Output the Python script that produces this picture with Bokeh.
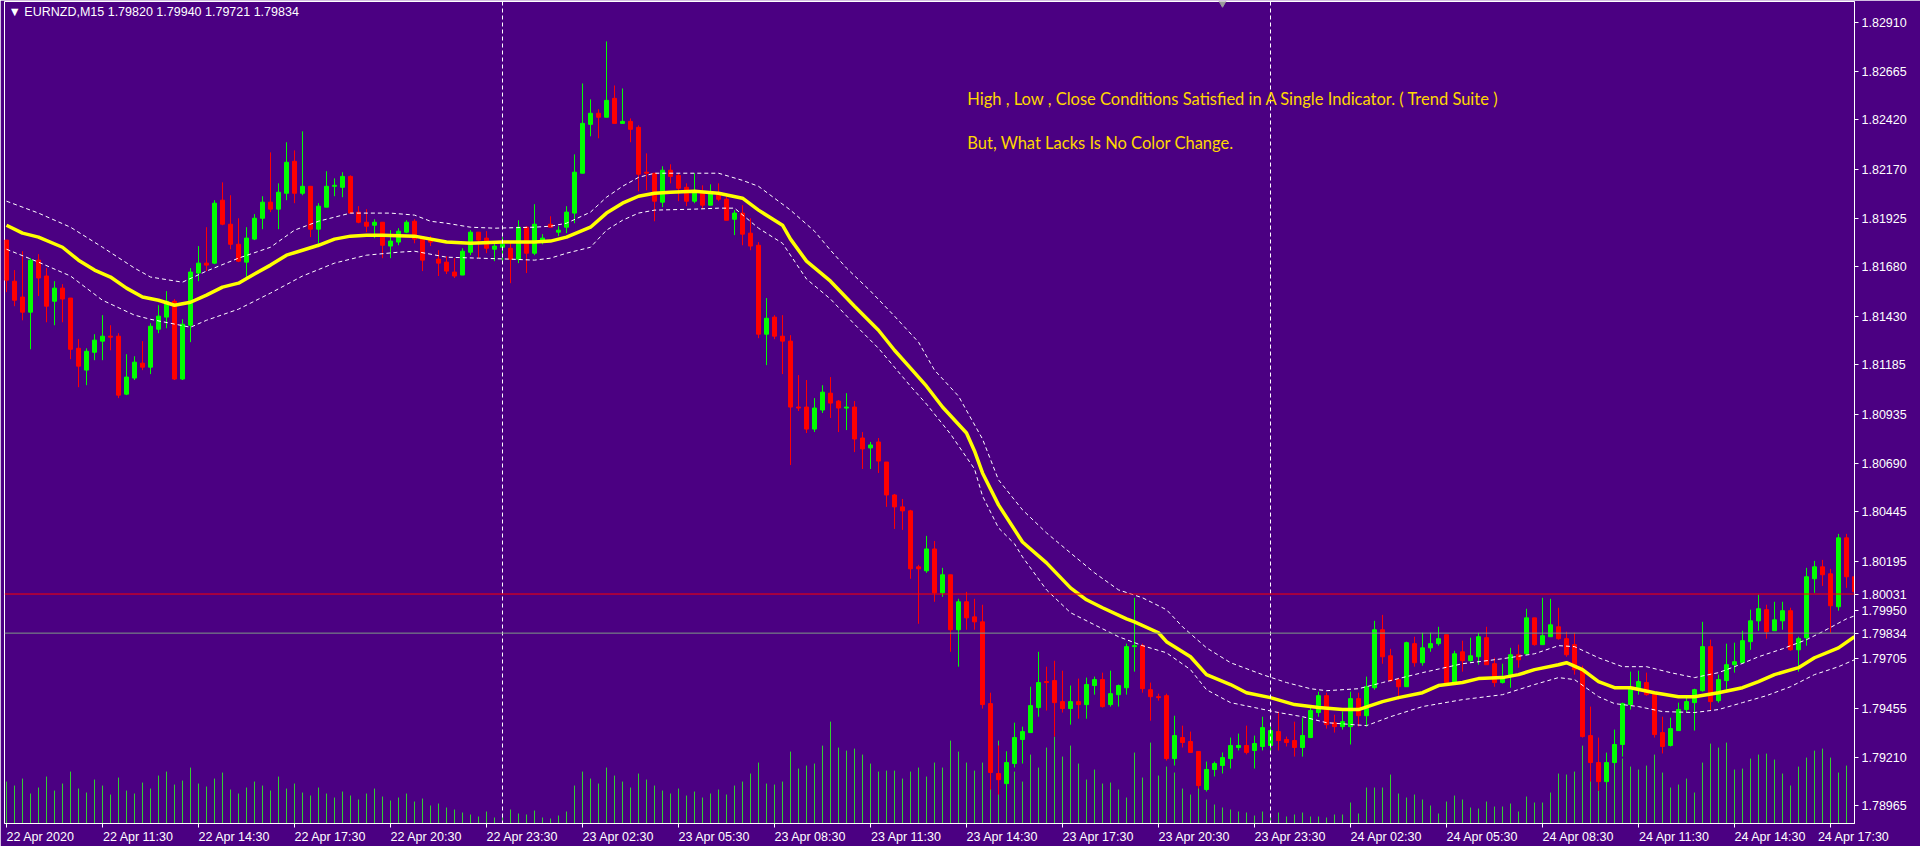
import numpy as np
from bokeh.plotting import figure
from bokeh.models import Range1d, FixedTicker, Span, Label, ColumnDataSource
from bokeh.embed import file_html
from bokeh.resources import INLINE

# ---------------- data ----------------
symbol_title = "\u25bc EURNZD,M15  1.79820 1.79940 1.79721 1.79834"
note_line1 = "High , Low , Close Conditions Satisfied in A Single Indicator. ( Trend Suite )"
note_line2 = "But, What Lacks Is No Color Change."

time_tick_bars = [0, 12, 24, 36, 48, 60, 72, 84, 96, 108, 120, 132, 144, 156, 168, 180, 192, 204, 216, 228]
time_tick_labels = ["22 Apr 2020", "22 Apr 11:30", "22 Apr 14:30", "22 Apr 17:30", "22 Apr 20:30",
                    "22 Apr 23:30", "23 Apr 02:30", "23 Apr 05:30", "23 Apr 08:30", "23 Apr 11:30",
                    "23 Apr 14:30", "23 Apr 17:30", "23 Apr 20:30", "23 Apr 23:30", "24 Apr 02:30",
                    "24 Apr 05:30", "24 Apr 08:30", "24 Apr 11:30", "24 Apr 14:30", "24 Apr 17:30"]

price_tick_labels = ["1.82910", "1.82665", "1.82420", "1.82170", "1.81925", "1.81680", "1.81430",
                     "1.81185", "1.80935", "1.80690", "1.80445", "1.80195", "1.79950", "1.79705",
                     "1.79455", "1.79210", "1.78965"]

bar_open = [1.81814, 1.81607, 1.81527, 1.81451, 1.81713, 1.81633, 1.81506, 1.81572, 1.81522, 1.81269,
            1.81159, 1.81249, 1.81305, 1.81330, 1.81330, 1.81038, 1.81119, 1.81194, 1.81174, 1.81365,
            1.81426, 1.81506, 1.81114, 1.81385, 1.81648, 1.81698, 1.81698, 1.82015, 1.81894, 1.81793,
            1.81703, 1.81819, 1.81924, 1.82005, 1.81970, 1.82050, 1.82211, 1.82050, 1.82085, 1.81869,
            1.81980, 1.82085, 1.82080, 1.82135, 1.81955, 1.81904, 1.81889, 1.81904, 1.81784, 1.81804,
            1.81854, 1.81909, 1.81829, 1.81814, 1.81718, 1.81703, 1.81653, 1.81638, 1.81753, 1.81854,
            1.81824, 1.81768, 1.81778, 1.81773, 1.81718, 1.81879, 1.81748, 1.81814, 1.81894, 1.81854,
            1.81879, 1.81950, 1.82151, 1.82397, 1.82453, 1.82433, 1.82528, 1.82402, 1.82412, 1.82382,
            1.82156, 1.82151, 1.82005, 1.82166, 1.82140, 1.82080, 1.82010, 1.82055, 1.81990, 1.82045,
            1.82020, 1.81919, 1.81950, 1.81849, 1.81788, 1.81340, 1.81426, 1.81330, 1.81305, 1.80973,
            1.80973, 1.80862, 1.80958, 1.81043, 1.81003, 1.80968, 1.80973, 1.80817, 1.80767, 1.80797,
            1.80696, 1.80530, 1.80470, 1.80450, 1.80168, 1.80148, 1.80258, 1.80037, 1.80128, 1.79851,
            1.79992, 1.79916, 1.79891, 1.79479, 1.79127, 1.79076, 1.79177, 1.79298, 1.79333, 1.79459,
            1.79590, 1.79595, 1.79489, 1.79454, 1.79489, 1.79474, 1.79570, 1.79600, 1.79474, 1.79524,
            1.79559, 1.79766, 1.79771, 1.79549, 1.79514, 1.79519, 1.79202, 1.79308, 1.79288, 1.79238,
            1.79046, 1.79147, 1.79167, 1.79202, 1.79258, 1.79268, 1.79243, 1.79263, 1.79268, 1.79338,
            1.79298, 1.79293, 1.79258, 1.79308, 1.79434, 1.79519, 1.79383, 1.79363, 1.79363, 1.79504,
            1.79418, 1.79559, 1.79851, 1.79720, 1.79600, 1.79564, 1.79781, 1.79685, 1.79760, 1.79781,
            1.79826, 1.79580, 1.79740, 1.79695, 1.79715, 1.79811, 1.79680, 1.79585, 1.79615, 1.79725,
            1.79730, 1.79911, 1.79776, 1.79816, 1.79866, 1.79806, 1.79776, 1.79650, 1.79318, 1.79182,
            1.79086, 1.79182, 1.79273, 1.79474, 1.79549, 1.79585, 1.79534, 1.79333, 1.79268, 1.79343,
            1.79449, 1.79484, 1.79544, 1.79766, 1.79494, 1.79595, 1.79675, 1.79685, 1.79791, 1.79896,
            1.79952, 1.79846, 1.79896, 1.79947, 1.79750, 1.79811, 1.80108, 1.80168, 1.80133, 1.79967,
            1.80314, 1.80118]

bar_high = [1.81814, 1.81663, 1.81758, 1.81723, 1.81743, 1.81673, 1.81607, 1.81592, 1.81522, 1.81315,
            1.81269, 1.81340, 1.81436, 1.81385, 1.81345, 1.81239, 1.81229, 1.81305, 1.81395, 1.81486,
            1.81557, 1.81517, 1.81415, 1.81673, 1.81784, 1.81879, 1.82015, 1.82105, 1.82040, 1.81924,
            1.81879, 1.81945, 1.82035, 1.82256, 1.82100, 1.82307, 1.82266, 1.82362, 1.82085, 1.82000,
            1.82161, 1.82125, 1.82156, 1.82140, 1.81985, 1.81970, 1.81919, 1.81904, 1.81864, 1.81874,
            1.81914, 1.81919, 1.81829, 1.81834, 1.81763, 1.81733, 1.81723, 1.81773, 1.81864, 1.81854,
            1.81859, 1.81798, 1.81829, 1.81804, 1.81914, 1.81884, 1.81995, 1.81844, 1.81934, 1.81884,
            1.81985, 1.82246, 1.82603, 1.82523, 1.82473, 1.82815, 1.82593, 1.82578, 1.82427, 1.82392,
            1.82251, 1.82151, 1.82186, 1.82196, 1.82151, 1.82100, 1.82151, 1.82090, 1.82095, 1.82100,
            1.82035, 1.81965, 1.81990, 1.81924, 1.81804, 1.81522, 1.81436, 1.81436, 1.81335, 1.81134,
            1.81109, 1.81018, 1.81083, 1.81124, 1.81008, 1.81043, 1.81003, 1.80847, 1.80797, 1.80817,
            1.80696, 1.80535, 1.80510, 1.80455, 1.80178, 1.80324, 1.80298, 1.80163, 1.80128, 1.80007,
            1.80042, 1.80007, 1.79977, 1.79534, 1.79268, 1.79238, 1.79383, 1.79363, 1.79564, 1.79740,
            1.79665, 1.79695, 1.79645, 1.79570, 1.79605, 1.79610, 1.79615, 1.79635, 1.79645, 1.79575,
            1.79781, 1.80012, 1.79781, 1.79585, 1.79529, 1.79529, 1.79418, 1.79368, 1.79338, 1.79238,
            1.79187, 1.79187, 1.79233, 1.79308, 1.79328, 1.79368, 1.79318, 1.79413, 1.79363, 1.79439,
            1.79313, 1.79388, 1.79408, 1.79464, 1.79539, 1.79534, 1.79423, 1.79439, 1.79539, 1.79534,
            1.79615, 1.79896, 1.79926, 1.79755, 1.79610, 1.79791, 1.79816, 1.79836, 1.79836, 1.79866,
            1.79826, 1.79745, 1.79796, 1.79811, 1.79836, 1.79866, 1.79710, 1.79680, 1.79760, 1.79776,
            1.79957, 1.79911, 1.80012, 1.80007, 1.79962, 1.79841, 1.79836, 1.79670, 1.79464, 1.79308,
            1.79228, 1.79348, 1.79484, 1.79640, 1.79645, 1.79635, 1.79534, 1.79413, 1.79408, 1.79484,
            1.79514, 1.79554, 1.79891, 1.79801, 1.79625, 1.79781, 1.79786, 1.79846, 1.79952, 1.80027,
            1.79977, 1.79992, 1.79992, 1.79962, 1.79816, 1.80163, 1.80198, 1.80203, 1.80158, 1.80334,
            1.80334, 1.80143]

bar_low = [1.81552, 1.81481, 1.81410, 1.81264, 1.81532, 1.81400, 1.81385, 1.81400, 1.81214, 1.81073,
           1.81083, 1.81209, 1.81209, 1.81259, 1.81018, 1.81033, 1.81109, 1.81159, 1.81139, 1.81345,
           1.81370, 1.81109, 1.81109, 1.81300, 1.81607, 1.81658, 1.81693, 1.81889, 1.81768, 1.81703,
           1.81618, 1.81814, 1.81869, 1.81955, 1.81869, 1.82015, 1.82000, 1.82040, 1.81829, 1.81778,
           1.81980, 1.82035, 1.82030, 1.81950, 1.81899, 1.81854, 1.81824, 1.81723, 1.81723, 1.81788,
           1.81849, 1.81798, 1.81658, 1.81784, 1.81633, 1.81643, 1.81623, 1.81638, 1.81738, 1.81723,
           1.81748, 1.81708, 1.81708, 1.81597, 1.81698, 1.81648, 1.81738, 1.81793, 1.81879, 1.81834,
           1.81849, 1.81899, 1.82151, 1.82337, 1.82327, 1.82433, 1.82402, 1.82402, 1.82307, 1.82060,
           1.82065, 1.81909, 1.81980, 1.82100, 1.82010, 1.81985, 1.82000, 1.81970, 1.81990, 1.82010,
           1.81914, 1.81839, 1.81788, 1.81763, 1.81320, 1.81184, 1.81315, 1.81139, 1.80681, 1.80953,
           1.80842, 1.80847, 1.80943, 1.80918, 1.80847, 1.80857, 1.80746, 1.80661, 1.80661, 1.80641,
           1.80470, 1.80359, 1.80354, 1.80108, 1.79881, 1.80138, 1.79992, 1.80017, 1.79740, 1.79665,
           1.79851, 1.79851, 1.79454, 1.79046, 1.79021, 1.78995, 1.79157, 1.79177, 1.79333, 1.79413,
           1.79444, 1.79313, 1.79434, 1.79373, 1.79403, 1.79403, 1.79524, 1.79459, 1.79464, 1.79464,
           1.79524, 1.79640, 1.79534, 1.79393, 1.79494, 1.79192, 1.79167, 1.79258, 1.79233, 1.79051,
           1.79036, 1.79112, 1.79127, 1.79152, 1.79243, 1.79223, 1.79152, 1.79243, 1.79233, 1.79243,
           1.79263, 1.79212, 1.79212, 1.79308, 1.79413, 1.79353, 1.79333, 1.79348, 1.79273, 1.79363,
           1.79363, 1.79549, 1.79680, 1.79590, 1.79499, 1.79564, 1.79665, 1.79670, 1.79740, 1.79771,
           1.79575, 1.79575, 1.79640, 1.79690, 1.79675, 1.79675, 1.79564, 1.79580, 1.79559, 1.79660,
           1.79725, 1.79771, 1.79776, 1.79816, 1.79801, 1.79715, 1.79625, 1.79308, 1.79086, 1.79041,
           1.79076, 1.79172, 1.79212, 1.79449, 1.79524, 1.79519, 1.79308, 1.79228, 1.79263, 1.79343,
           1.79434, 1.79343, 1.79539, 1.79444, 1.79484, 1.79549, 1.79635, 1.79685, 1.79750, 1.79846,
           1.79806, 1.79846, 1.79851, 1.79745, 1.79640, 1.79771, 1.80037, 1.80072, 1.79836, 1.79947,
           1.80062, 1.79952]

bar_close = [1.81612, 1.81511, 1.81451, 1.81713, 1.81623, 1.81481, 1.81572, 1.81517, 1.81264, 1.81179,
             1.81254, 1.81310, 1.81330, 1.81325, 1.81033, 1.81124, 1.81199, 1.81174, 1.81380, 1.81431,
             1.81506, 1.81114, 1.81390, 1.81653, 1.81698, 1.81688, 1.82000, 1.81894, 1.81793, 1.81708,
             1.81824, 1.81924, 1.82005, 1.81970, 1.82055, 1.82206, 1.82050, 1.82085, 1.81869, 1.81985,
             1.82085, 1.82090, 1.82135, 1.81950, 1.81904, 1.81884, 1.81904, 1.81788, 1.81809, 1.81859,
             1.81904, 1.81819, 1.81713, 1.81804, 1.81698, 1.81658, 1.81633, 1.81758, 1.81854, 1.81814,
             1.81773, 1.81784, 1.81793, 1.81718, 1.81879, 1.81748, 1.81894, 1.81824, 1.81879, 1.81864,
             1.81955, 1.82156, 1.82402, 1.82453, 1.82433, 1.82518, 1.82402, 1.82412, 1.82372, 1.82146,
             1.82151, 1.82010, 1.82166, 1.82135, 1.82075, 1.82010, 1.82055, 1.81990, 1.82055, 1.82020,
             1.81914, 1.81950, 1.81844, 1.81784, 1.81340, 1.81420, 1.81330, 1.81305, 1.80973, 1.80968,
             1.80862, 1.80968, 1.81048, 1.80993, 1.80968, 1.80973, 1.80812, 1.80762, 1.80782, 1.80701,
             1.80530, 1.80470, 1.80450, 1.80158, 1.80158, 1.80258, 1.80037, 1.80128, 1.79851, 1.79992,
             1.79911, 1.79891, 1.79474, 1.79132, 1.79096, 1.79182, 1.79308, 1.79338, 1.79469, 1.79585,
             1.79585, 1.79484, 1.79454, 1.79489, 1.79474, 1.79575, 1.79600, 1.79464, 1.79529, 1.79570,
             1.79766, 1.79771, 1.79554, 1.79514, 1.79509, 1.79202, 1.79318, 1.79283, 1.79233, 1.79066,
             1.79147, 1.79177, 1.79207, 1.79268, 1.79268, 1.79233, 1.79278, 1.79358, 1.79343, 1.79293,
             1.79283, 1.79258, 1.79318, 1.79444, 1.79519, 1.79373, 1.79363, 1.79388, 1.79504, 1.79418,
             1.79564, 1.79851, 1.79715, 1.79595, 1.79564, 1.79786, 1.79685, 1.79760, 1.79781, 1.79806,
             1.79575, 1.79730, 1.79695, 1.79720, 1.79816, 1.79675, 1.79585, 1.79615, 1.79725, 1.79700,
             1.79911, 1.79776, 1.79821, 1.79876, 1.79806, 1.79725, 1.79650, 1.79313, 1.79182, 1.79086,
             1.79182, 1.79273, 1.79479, 1.79559, 1.79590, 1.79524, 1.79323, 1.79263, 1.79353, 1.79449,
             1.79489, 1.79549, 1.79766, 1.79489, 1.79600, 1.79675, 1.79690, 1.79796, 1.79896, 1.79957,
             1.79841, 1.79901, 1.79947, 1.79750, 1.79806, 1.80118, 1.80168, 1.80128, 1.79972, 1.80314,
             1.80118, 1.80042]

tick_volume = [420, 380, 450, 300, 360, 470, 330, 400, 520, 350, 310, 440, 380, 290, 460, 330, 300, 410,
               350, 480, 520, 390, 430, 560, 400, 370, 450, 510, 340, 300, 360, 420, 380, 330, 470, 350,
               400, 310, 280, 360, 300, 260, 320, 280, 240, 300, 350, 270, 230, 260, 300, 220, 250, 180,
               200, 160, 140,
               110, 90, 70, 120, 60, 80, 140, 100, 90, 130, 60, 50, 80, 120,
               380, 520, 450, 400, 560, 480, 420, 360, 500, 440, 380, 330, 300, 350, 280, 320, 260, 300,
               340, 290, 380, 420, 500,
               610, 400, 390, 420, 720, 550, 580, 600, 780, 1020, 760, 730, 750, 690, 600, 520, 530, 530,
               450, 520, 560, 470, 610, 560, 830, 720, 610, 530, 610, 640, 830, 720, 520, 420, 690, 560,
               760, 870, 670, 780, 600, 440, 540, 400, 410, 340, 260, 710, 460, 810, 480, 570, 510, 350,
               290, 360,
               240, 190, 160, 140, 120, 110, 80, 120, 60, 110, 70, 90,
               110, 70, 70, 60, 90, 90, 210, 100, 360, 360, 360, 490, 300, 260, 290, 240, 180, 100, 220,
               280, 240, 160, 150, 220, 170, 170, 200, 120, 270, 210, 210, 310, 500, 490, 520, 780, 880,
               330, 710, 650, 650, 570, 540, 580, 690, 510, 360, 390, 450, 310, 610, 800, 760, 810, 540,
               550, 650, 690, 700, 640, 500, 380, 570, 660, 730, 750, 660, 510, 580, 350]

ma_bars = [0, 2, 4, 7, 9, 11, 13, 15, 17, 19, 21, 23, 25, 27, 29, 31, 33, 35, 37, 39, 41, 43, 45, 47, 51,
           55, 58, 62, 66, 68, 70, 73, 75, 77, 79, 81, 83, 86, 89, 92, 94, 97, 98, 100, 103, 106, 109,
           111, 113, 115, 117, 120, 121, 122, 124, 127, 130, 133, 135, 137, 140, 141, 144, 145, 148, 150,
           153, 155, 158, 161, 164, 167, 169, 172, 174, 177, 179, 182, 184, 187, 189, 191, 194, 195, 197,
           199, 201, 203, 206, 209, 211, 214, 217, 219, 221, 224, 226, 229, 231]
ma_values = [1.81889, 1.81849, 1.81829, 1.81778, 1.81713, 1.81663, 1.81628, 1.81572, 1.81527, 1.81511,
             1.81486, 1.81501, 1.81537, 1.81577, 1.81597, 1.81643, 1.81688, 1.81738, 1.81763, 1.81788,
             1.81819, 1.81834, 1.81839, 1.81839, 1.81834, 1.81804, 1.81798, 1.81804, 1.81804, 1.81809,
             1.81829, 1.81879, 1.81950, 1.82000, 1.82035, 1.82050, 1.82055, 1.82060, 1.82050, 1.82025,
             1.81965, 1.81889, 1.81819, 1.81708, 1.81607, 1.81481, 1.81360, 1.81259, 1.81169, 1.81078,
             1.80973, 1.80842, 1.80752, 1.80641, 1.80480, 1.80293, 1.80188, 1.80062, 1.80002, 1.79962,
             1.79906, 1.79891, 1.79836, 1.79791, 1.79715, 1.79625, 1.79575, 1.79534, 1.79509, 1.79474,
             1.79459, 1.79449, 1.79449, 1.79489, 1.79509, 1.79534, 1.79570, 1.79585, 1.79605, 1.79610,
             1.79625, 1.79650, 1.79675, 1.79685, 1.79650, 1.79590, 1.79559, 1.79559, 1.79534, 1.79514,
             1.79514, 1.79534, 1.79559, 1.79590, 1.79625, 1.79660, 1.79710, 1.79760, 1.79816]

upper_bars = [0, 4, 8, 12, 16, 18, 22, 25, 29, 33, 36, 39, 43, 48, 51, 53, 55, 58, 61, 66, 68, 70, 73,
              75, 77, 79, 81, 86, 89, 92, 94, 98, 101, 103, 105, 108, 111, 114, 116, 119, 122, 124, 127,
              130, 133, 136, 139, 142, 145, 147, 150, 153, 157, 160, 163, 165, 169, 172, 177, 182, 187,
              191, 194, 196, 199, 202, 205, 208, 211, 214, 216, 219, 222, 225, 227, 230, 231]
upper_values = [1.82010, 1.81950, 1.81879, 1.81778, 1.81673, 1.81628, 1.81602, 1.81658, 1.81723, 1.81778,
                1.81864, 1.81909, 1.81950, 1.81950, 1.81940, 1.81909, 1.81899, 1.81879, 1.81874, 1.81879,
                1.81884, 1.81899, 1.81955, 1.82030, 1.82085, 1.82130, 1.82151, 1.82151, 1.82151, 1.82115,
                1.82085, 1.81965, 1.81859, 1.81763, 1.81673, 1.81557, 1.81431, 1.81300, 1.81159, 1.81028,
                1.80812, 1.80606, 1.80455, 1.80339, 1.80238, 1.80138, 1.80052, 1.80012, 1.79952, 1.79866,
                1.79760, 1.79685, 1.79625, 1.79585, 1.79554, 1.79544, 1.79554, 1.79585, 1.79635, 1.79680,
                1.79705, 1.79730, 1.79771, 1.79766, 1.79710, 1.79665, 1.79665, 1.79635, 1.79610, 1.79635,
                1.79665, 1.79715, 1.79755, 1.79801, 1.79841, 1.79906, 1.79921]

lower_bars = [0, 4, 8, 12, 16, 18, 23, 25, 29, 33, 37, 41, 45, 49, 51, 55, 59, 63, 66, 68, 70, 73, 75,
              77, 79, 81, 86, 89, 91, 94, 97, 100, 103, 106, 109, 113, 115, 118, 121, 122, 124, 126, 127,
              130, 133, 136, 139, 142, 145, 148, 150, 153, 156, 159, 162, 165, 170, 173, 177, 182, 187,
              191, 194, 196, 199, 201, 204, 207, 211, 214, 217, 220, 223, 226, 229, 231]
lower_values = [1.81768, 1.81703, 1.81633, 1.81511, 1.81436, 1.81415, 1.81375, 1.81410, 1.81466, 1.81547,
                1.81633, 1.81698, 1.81738, 1.81753, 1.81758, 1.81728, 1.81723, 1.81718, 1.81713, 1.81723,
                1.81748, 1.81778, 1.81864, 1.81914, 1.81950, 1.81965, 1.81970, 1.81975, 1.81975, 1.81874,
                1.81798, 1.81618, 1.81517, 1.81390, 1.81269, 1.81078, 1.80988, 1.80837, 1.80661, 1.80525,
                1.80364, 1.80284, 1.80218, 1.80052, 1.79937, 1.79876, 1.79816, 1.79771, 1.79735, 1.79650,
                1.79549, 1.79484, 1.79459, 1.79434, 1.79413, 1.79383, 1.79368, 1.79413, 1.79464, 1.79499,
                1.79524, 1.79575, 1.79610, 1.79600, 1.79514, 1.79479, 1.79464, 1.79439, 1.79434, 1.79449,
                1.79484, 1.79519, 1.79564, 1.79625, 1.79665, 1.79700]

day_separator_bars = [62, 158]
level_line_price = 1.80031
level_line_label = "1.80031"
bid_price = 1.79834
bid_label = "1.79834"
chart_shift_bar = 152

# ---------------- styling ----------------
BG = "#4B0082"
BULL = "#00FF00"
BEAR = "#FF0000"
VOL = "#32CD32"
AXIS_FONT = "Liberation Sans"
BAR_PX = 8.0         # pixels per bar on screen
LABEL_FONT_PX = 12.5

o = np.array(bar_open)
h = np.array(bar_high)
l = np.array(bar_low)
c = np.array(bar_close)
x = np.arange(len(o))
colors = np.where(c >= o, BULL, BEAR)

src = ColumnDataSource(dict(x=x, o=o, h=h, l=l, c=c,
                            top=np.maximum(o, c), bottom=np.minimum(o, c),
                            col=colors, vol=np.array(tick_volume)))

x_end = 231.0
p = figure(width=1920, height=846, output_backend="svg", toolbar_location=None,
           x_range=Range1d(-0.25, x_end), y_range=Range1d(1.78875, 1.83016),
           y_axis_location="right",
           min_border_left=4, min_border_top=1, min_border_right=66, min_border_bottom=22,
           background_fill_color=BG, border_fill_color=BG,
           outline_line_color="white", outline_line_width=1)
p.xgrid.visible = False
p.ygrid.visible = False
p.extra_y_ranges = {"vol": Range1d(0, 8230)}

# volumes
p.segment(x0="x", y0=0, x1="x", y1="vol", source=src, y_range_name="vol",
          line_color=VOL, line_width=1)

# day separators
for b in day_separator_bars:
    p.add_layout(Span(location=b, dimension="height", line_color="white",
                      line_dash="4 3", line_width=1))

# horizontal level and bid lines
p.add_layout(Span(location=level_line_price, dimension="width", line_color="#FF0000", line_width=1))
p.add_layout(Span(location=bid_price, dimension="width", line_color="#7F9A86", line_width=1))

# candles
p.segment(x0="x", y0="h", x1="x", y1="l", source=src, line_color="col", line_width=1)
p.vbar(x="x", width=0.5, top="top", bottom="bottom", source=src,
       fill_color="col", line_color="col", line_width=1)

# indicator: middle line + bands
p.line(upper_bars, upper_values, line_color="white", line_width=1, line_dash="4 3")
p.line(lower_bars, lower_values, line_color="white", line_width=1, line_dash="4 3")
p.line(ma_bars, ma_values, line_color="#FFFF00", line_width=3.5)

# chart-shift marker
p.scatter([chart_shift_bar], [p.y_range.end], marker="inverted_triangle", size=10,
          fill_color="#9a9a9a", line_color="#9a9a9a")

# price axis (right), including the level-line and bid prices
ya = p.yaxis[0]
tick_vals = [float(s) for s in price_tick_labels] + [level_line_price, bid_price]
tick_text = price_tick_labels + [level_line_label, bid_label]
ya.ticker = FixedTicker(ticks=tick_vals)
ya.major_label_overrides = {v: s for v, s in zip(tick_vals, tick_text)}
ya.axis_line_color = "white"
ya.major_tick_line_color = "white"
ya.major_tick_out = 4
ya.major_tick_in = 0
ya.minor_tick_line_color = None
ya.major_label_text_color = "white"
ya.major_label_text_font = AXIS_FONT
ya.major_label_text_font_size = "12.5px"
ya.major_label_standoff = 3

# time axis (bottom): small tick marks at the bars, labels starting at their tick
def half_width_bars(s):
    em = sum(0.278 if ch in " .,:" else 0.333 if ch == "r" else 0.667 if ch == "A" else 0.556 for ch in s)
    return em * LABEL_FONT_PX / 2 / BAR_PX

label_pos = [min(b + half_width_bars(s), x_end - 0.1) for b, s in zip(time_tick_bars, time_tick_labels)]
xa = p.xaxis[0]
xa.ticker = FixedTicker(ticks=label_pos, minor_ticks=time_tick_bars)
xa.major_label_overrides = {v: s for v, s in zip(label_pos, time_tick_labels)}
xa.axis_line_color = "white"
xa.major_tick_line_color = None
xa.major_tick_out = 4
xa.major_tick_in = 0
xa.minor_tick_line_color = "white"
xa.minor_tick_out = 4
xa.minor_tick_in = 0
xa.major_label_text_color = "white"
xa.major_label_text_font = AXIS_FONT
xa.major_label_text_font_size = "12.5px"
xa.major_label_standoff = 2

# title in the corner
p.add_layout(Label(x=p.x_range.start, y=p.y_range.end, x_offset=4, y_offset=-3, text=symbol_title,
                   text_align="left", text_baseline="top", text_color="white",
                   text_font=AXIS_FONT, text_font_size="12.5px"))

# annotation texts
p.add_layout(Label(x=120.1, y=1.82523, text=note_line1, text_align="left", text_baseline="middle",
                   text_color="#FFD700", text_font="Lato", text_font_size="16.5px"))
p.add_layout(Label(x=120.1, y=1.82301, text=note_line2, text_align="left", text_baseline="middle",
                   text_color="#FFD700", text_font="Lato", text_font_size="16.5px"))

open("out.html", "w").write(file_html(p, INLINE))
